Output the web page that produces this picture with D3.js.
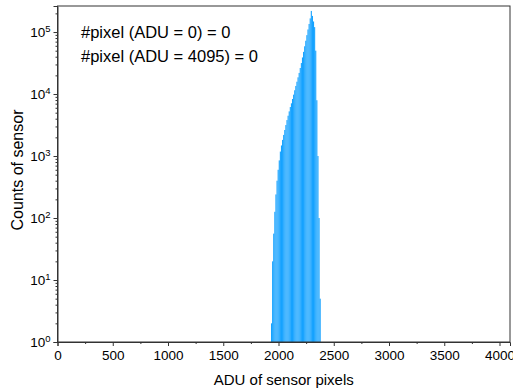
<!DOCTYPE html>
<html>
<head>
<meta charset="utf-8">
<script src="https://cdn.jsdelivr.net/npm/d3@7"></script>
<style>
  body { margin: 0; background: #fff; }
  text { font-family: 'Liberation Sans', Arial, sans-serif; fill: #000; }
</style>
</head>
<body>
<svg id="chart" width="513" height="392"></svg>
<script>
// histogram bins: left edge (ADU), bin width 10, counts
const binStarts = [1932, 1942, 1952, 1962, 1972, 1982, 1992, 2002, 2012, 2022,
  2032, 2042, 2052, 2062, 2072, 2082, 2092, 2102, 2112, 2122,
  2132, 2142, 2152, 2162, 2172, 2182, 2192, 2202, 2212, 2222,
  2232, 2242, 2252, 2262, 2272, 2282, 2292, 2302, 2312, 2322,
  2332, 2342, 2352, 2362, 2372]
const binCounts = [2, 20, 56, 126, 240, 400, 600, 850, 1180, 1480,
  1820, 2190, 2630, 3160, 3800, 4470, 5250, 6170, 7080, 8320,
  9770, 11500, 13500, 15800, 18600, 21900, 26300, 31600, 38900, 47900,
  58900, 72400, 89100, 110000, 135000, 166000, 219000, 182000, 148000, 120000,
  50100, 7940, 1000, 100, 5]
const binWidth = 10

const xTicks = [0, 500, 1000, 1500, 2000, 2500, 3000, 3500, 4000]
const xMinorTicks = [250, 750, 1250, 1750, 2250, 2750, 3250, 3750]
const yTicks = [1, 10, 100, 1000, 10000, 100000]
const notes = ['#pixel (ADU = 0) = 0', '#pixel (ADU = 4095) = 0']

const margin = { top: 6, left: 57.5, right: 3, bottom: 50 }
const width = 513 - margin.left - margin.right
const height = 392 - margin.top - margin.bottom

const svg = d3.select('#chart')
const g = svg.append('g')
  .attr('transform', 'translate(' + margin.left + ',' + margin.top + ')')

const xScale = d3.scaleLinear().domain([0, 4095]).range([0, width])
const yScale = d3.scaleLog().domain([1, 263000]).range([height, 0])

// bars
g.append('g')
  .selectAll('rect')
  .data(binStarts)
  .enter()
  .append('rect')
  .attr('x', d => xScale(d))
  .attr('width', d => xScale(d + binWidth) - xScale(d))
  .attr('y', (d, i) => yScale(binCounts[i]))
  .attr('height', (d, i) => height - yScale(binCounts[i]))
  .attr('fill', '#15a2ff')

// minor y ticks 2..9 per decade
const yMinor = []
yTicks.forEach(t => {
  for (let k = 2; k <= 9; k++) {
    if (t * k < 263000) yMinor.push(t * k)
  }
})

const axisColor = '#333'

// x axis
const xAxis = g.append('g')
  .attr('transform', 'translate(0,' + height + ')')
  .call(d3.axisBottom(xScale).tickValues(xTicks).tickSize(4).tickPadding(4).tickFormat(d3.format('d')))
xAxis.selectAll('text').attr('font-size', 13.5).attr('font-family', "'Liberation Sans', Arial, sans-serif")
g.append('g')
  .attr('transform', 'translate(0,' + height + ')')
  .call(d3.axisBottom(xScale).tickValues(xMinorTicks).tickSize(2).tickFormat(''))
  .call(a => a.select('.domain').remove())

// y axis
const yAxis = g.append('g')
  .call(d3.axisLeft(yScale).tickValues(yTicks).tickSize(4).tickPadding(3).tickFormat(''))
yAxis.selectAll('.tick').append('text')
  .attr('x', -7)
  .attr('dy', '0.35em')
  .attr('text-anchor', 'end')
  .attr('font-size', 13.5)
  .each(function(d) {
    const t = d3.select(this)
    t.append('tspan').text('10')
    t.append('tspan').attr('font-size', 9.5).attr('dy', '-0.55em').text(Math.round(Math.log10(d)))
  })
g.append('g')
  .call(d3.axisLeft(yScale).tickValues(yMinor).tickSize(2).tickFormat(''))
  .call(a => a.select('.domain').remove())

g.selectAll('.domain, .tick line').attr('stroke', axisColor)

// frame
g.append('rect')
  .attr('x', 0).attr('y', 0)
  .attr('width', width).attr('height', height)
  .attr('fill', 'none')
  .attr('stroke', axisColor)
  .attr('stroke-width', 1)

// annotations
g.selectAll('.note')
  .data(notes)
  .enter()
  .append('text')
  .attr('class', 'note')
  .attr('x', 23.5)
  .attr('y', (d, i) => 31.5 + i * 24)
  .attr('font-size', 16.5)
  .text(d => d)

// axis labels
svg.append('text')
  .attr('x', margin.left + width / 2)
  .attr('y', 385)
  .attr('text-anchor', 'middle')
  .attr('font-size', 15)
  .text('ADU of sensor pixels')

svg.append('text')
  .attr('transform', 'translate(23,170) rotate(-90)')
  .attr('text-anchor', 'middle')
  .attr('font-size', 16)
  .text('Counts of sensor')
</script>
</body>
</html>
